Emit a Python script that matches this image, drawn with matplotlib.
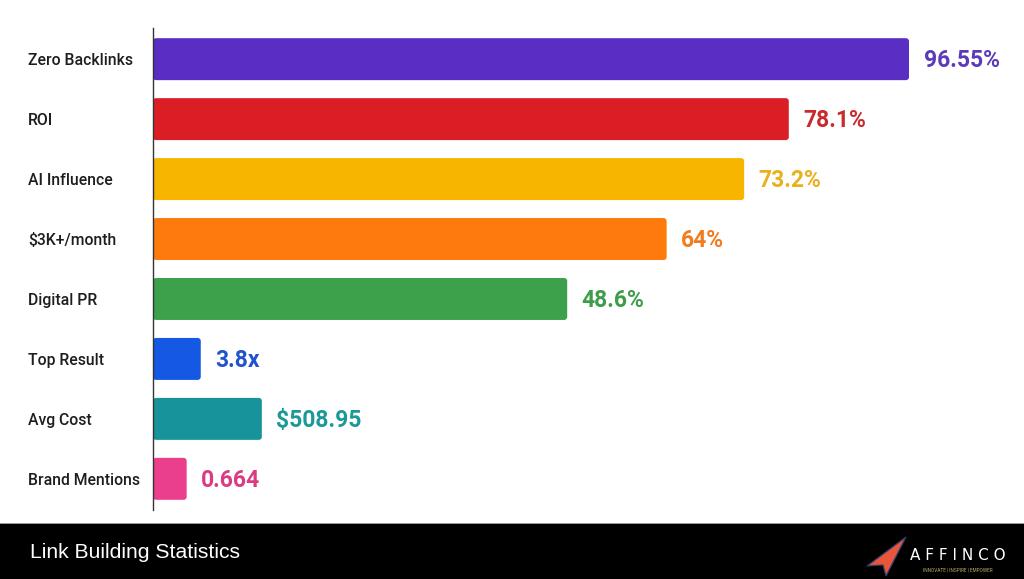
import matplotlib.pyplot as plt
from matplotlib.patches import FancyBboxPatch, Rectangle, Polygon

categories = ["Zero Backlinks", "ROI", "AI Influence", "$3K+/month",
              "Digital PR", "Top Result", "Avg Cost", "Brand Mentions"]
# bar lengths as drawn in the picture (same scale as the 96.55% bar)
bar_lengths = [96.55, 81.2, 75.5, 65.6, 52.9, 6.1, 13.9, 4.3]
value_labels = ["96.55%", "78.1%", "73.2%", "64%", "48.6%", "3.8x", "$508.95", "0.664"]
bar_colors = ["#5A2EC2", "#DB1E26", "#F7B500", "#FF7A0C", "#3DA04B",
              "#1558E3", "#16939B", "#EA3F8C"]
text_colors = ["#5B3BB8", "#C92A2C", "#E9B11E", "#F27B1E", "#3E9C4B",
               "#2154CC", "#1D9898", "#DA3B82"]

plt.rcParams['font.family'] = ['Roboto', 'DejaVu Sans']

fig = plt.figure(figsize=(10.24, 5.79), dpi=100)
ax = fig.add_axes([153 / 1024, 1 - 510 / 579, 871 / 1024, 482 / 579])

ypos = list(range(len(categories)))
bars = ax.barh(ypos, bar_lengths, height=0.7, color="none")
for b, c in zip(bars, bar_colors):
    x0, y0 = b.get_x(), b.get_y()
    w, h = b.get_width(), b.get_height()
    ax.add_patch(FancyBboxPatch((x0, y0), w, h,
                                boxstyle="round,pad=0,rounding_size=0.4",
                                mutation_aspect=0.125, facecolor=c,
                                edgecolor="none"))

for y, v, lab, c in zip(ypos, bar_lengths, value_labels, text_colors):
    ax.annotate(lab, (v, y), xytext=(10.5, -1), textcoords="offset points",
                ha="left", va="center", fontsize=16.5, fontweight="bold",
                color=c)

ax.set_xlim(0, 871 / 7.83)
ax.set_ylim(7.52, -0.52)
ax.set_yticks(ypos)
ax.set_yticklabels(categories, fontsize=11.3, fontweight="medium", color="#1e1e1e")
for t in ax.get_yticklabels():
    t.set_ha("left")
ax.tick_params(axis="y", length=0, pad=90)
ax.set_xticks([])
for s in ["top", "right", "bottom"]:
    ax.spines[s].set_visible(False)
ax.spines["left"].set_color("#333333")
ax.spines["left"].set_linewidth(1.0)

# footer band
fig.patches.append(Rectangle((0, 0), 1, 55 / 579, transform=fig.transFigure,
                             facecolor="black", edgecolor="none"))
fig.patches.append(Rectangle((0, 55 / 579), 1, 1.5 / 579, transform=fig.transFigure,
                             facecolor="#9a9a9a", edgecolor="none"))
fig.text(30 / 1024, 1 - 552 / 579, "Link Building Statistics", color="white",
         fontsize=15.2, family="Liberation Sans", va="center", ha="left")

# logo
def fx(px):
    return px / 1024

def fy(py):
    return 1 - py / 579

fig.patches.append(Polygon([(fx(906), fy(537)), (fx(867), fy(566)), (fx(883), fy(565)),
                            (fx(886), fy(576))], closed=True, transform=fig.transFigure,
                           facecolor="#E8553A", edgecolor="#2B3F6B", linewidth=0.9))
fig.text(fx(958), fy(556), "A F F I N C O", color="white", fontsize=11,
         ha="center", va="center", family="DejaVu Sans")
fig.text(fx(958), fy(570), "INNOVATE | INSPIRE | EMPOWER", color="#B9B060",
         fontsize=3.4, ha="center", va="center")

fig.savefig("out.png", dpi=100)
